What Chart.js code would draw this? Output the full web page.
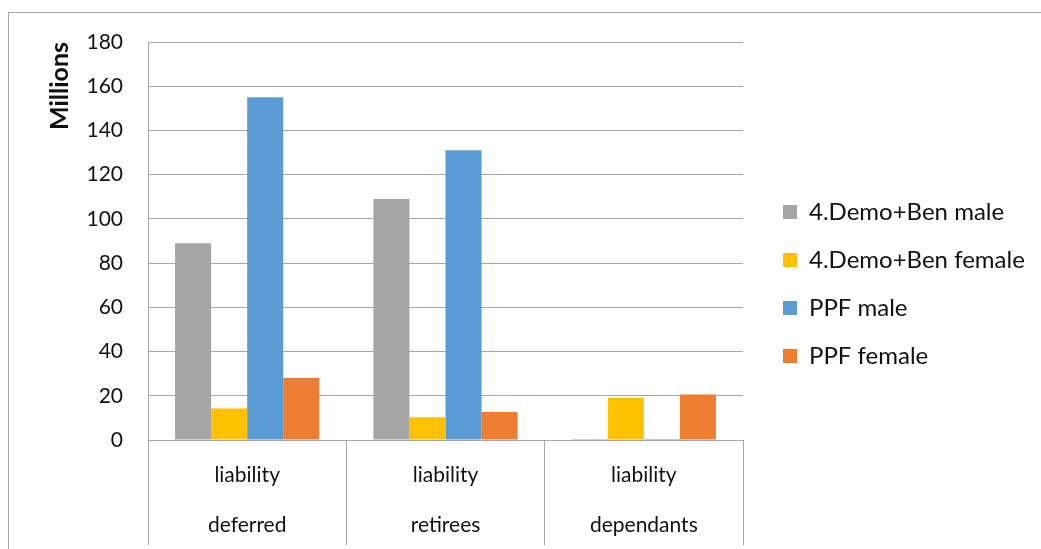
<!DOCTYPE html>
<html>
<head>
<meta charset="utf-8">
<script src="https://cdn.jsdelivr.net/npm/chart.js@4"></script>
<style>
    html, body { margin: 0; padding: 0; background: #fff; }
    #wrap { position: relative; width: 1041px; height: 549px; }
</style>
</head>
<body>
<div id="wrap"><canvas id="chart" width="1041" height="549"></canvas></div>
<script>
const categories = [['liability', 'deferred'], ['liability', 'retirees'], ['liability', 'dependants']];
const seriesNames = ['4.Demo+Ben male', '4.Demo+Ben female', 'PPF male', 'PPF female'];
const demoMale = [89, 109, 0.4];
const demoFemale = [14.3, 10.3, 19.1];
const ppfMale = [155, 131, 0.4];
const ppfFemale = [28, 12.7, 20.6];
const yTicks = [0, 20, 40, 60, 80, 100, 120, 140, 160, 180];

const colors = ['#a5a5a5', '#ffc000', '#5b9bd5', '#ed7d31'];
const lineColor = '#a6a6a6';
const fontFamily = 'Lato, "Open Sans", sans-serif';

// plot area in the reference: x 148..743, y 42..440
const plotLeft = 148, plotRight = 743, plotTop = 42, plotBottom = 440;
const padLeft = 31;

const outerFrame = {
    id: 'outerFrame',
    beforeDraw(chart) {
        const ctx = chart.ctx;
        ctx.save();
        ctx.strokeStyle = lineColor;
        ctx.lineWidth = 1;
        ctx.strokeRect(8.5, 12.5, 2000, 2000);
        ctx.restore();
    }
};

// legend sits right of the plot; move its box after layout
const legendSpot = {
    id: 'legendSpot',
    afterLayout(chart) {
        const lg = chart.legend;
        lg.left = 759;
        lg.right = 1041;
        lg.top = 42;
        lg.bottom = 526;
        lg.width = lg.right - lg.left;
        lg.height = lg.bottom - lg.top;
    }
};

const seriesData = [demoMale, demoFemale, ppfMale, ppfFemale];

new Chart(document.getElementById('chart').getContext('2d'), {
    type: 'bar',
    data: {
        labels: categories,
        datasets: seriesNames.map((name, i) => ({
            label: name,
            data: seriesData[i],
            backgroundColor: colors[i],
            borderWidth: 0,
            barPercentage: 1,
            categoryPercentage: 0.727
        }))
    },
    options: {
        responsive: false,
        animation: false,
        devicePixelRatio: 1,
        layout: { padding: { left: padLeft, top: plotTop, right: 1041 - plotRight, bottom: 0 } },
        plugins: {
            tooltip: { enabled: false },
            legend: {
                position: 'chartArea',
                align: 'center',
                labels: {
                    boxWidth: 14,
                    boxHeight: 14,
                    padding: 24,
                    color: '#111',
                    font: { family: fontFamily, size: 24 }
                }
            }
        },
        scales: {
            x: {
                grid: {
                    offset: true,
                    drawOnChartArea: false,
                    drawTicks: true,
                    tickLength: 105,
                    color: lineColor
                },
                border: { display: true, color: lineColor },
                ticks: {
                    color: '#111',
                    maxRotation: 0,
                    padding: -95,
                    font: { family: fontFamily, size: 21, lineHeight: '50px' }
                },
                afterFit: (scale) => { scale.height = 549 - plotBottom; }
            },
            y: {
                min: 0,
                max: 180,
                afterBuildTicks: (scale) => { scale.ticks = yTicks.map(v => ({ value: v })); },
                grid: { color: lineColor, drawTicks: false },
                border: { display: true, color: lineColor },
                ticks: {
                    color: '#111',
                    padding: 25,
                    font: { family: fontFamily, size: 21 }
                },
                title: {
                    display: true,
                    text: 'Millions',
                    align: 'end',
                    color: '#111',
                    padding: { top: 14, bottom: 13 },
                    font: { family: fontFamily, size: 25, weight: 'bold' }
                },
                afterFit: (scale) => { scale.width = plotLeft - padLeft; }
            }
        }
    },
    plugins: [outerFrame, legendSpot]
});
</script>
</body>
</html>
